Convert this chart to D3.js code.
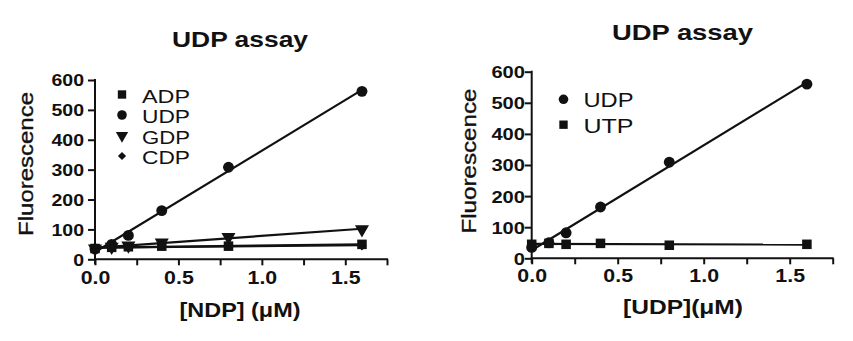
<!DOCTYPE html>
<html><head><meta charset="utf-8">
<script src="https://cdn.jsdelivr.net/npm/d3@7"></script>
<style>
html,body{margin:0;padding:0;background:#fff;}
text{font-family:"Liberation Sans",Arial,Helvetica,sans-serif;fill:#111;}
</style></head>
<body>
<svg id="chart" width="853" height="341"></svg>
<script>
// ---------- data ----------
const concentrations = [0, 0.1, 0.2, 0.4, 0.8, 1.6];
const xTickValues = [0, 0.25, 0.5, 0.75, 1.0, 1.25, 1.5, 1.75];
const xTickLabels = ["0.0", "", "0.5", "", "1.0", "", "1.5", ""];
const yTickValues = [0, 100, 200, 300, 400, 500, 600];

// left panel: NDP specificity
const leftSeriesNames = ["ADP", "UDP", "GDP", "CDP"];
const leftADP = [36, 40, 42, 44, 44, 50];
const leftUDP = [35, 50, 80, 163, 308, 562];
const leftGDP = [36, 42, 46, 56, 74, 100];
const leftCDP = [34, 38, 40, 47, 44, 45];
const leftSymbols = ["square", "circle", "triangleDown", "diamond"];

// right panel: UDP vs UTP
const rightSeriesNames = ["UDP", "UTP"];
const rightUDP = [35, 50, 82, 165, 309, 560];
const rightUTP = [45, 48, 45, 48, 42, 45];
const rightSymbols = ["circle", "square"];

const titles = ["UDP assay", "UDP assay"];
const xTitles = ["[NDP] (\u03bcM)", "[UDP](\u03bcM)"];
const yTitle = "Fluorescence";

// ---------- drawing ----------
const svg = d3.select("#chart");
const SX = 1.22; // horizontal text stretch of the reference

function symbolPath(kind, big) {
  const k = big ? 1.3 : 1;
  if (kind === "square") return d3.symbol(d3.symbolSquare, 70 * k)();
  if (kind === "circle") return d3.symbol(d3.symbolCircle, 72 * k)();
  if (kind === "triangleDown") return d3.symbol(d3.symbolTriangle, 66 * k)();
  if (kind === "diamond") return d3.symbol(d3.symbolSquare, 34 * k)();
}
function symbolRot(kind) {
  if (kind === "triangleDown") return " rotate(180)";
  if (kind === "diamond") return " rotate(45)";
  return "";
}

function fit(xs, ys) {
  const mx = d3.mean(xs), my = d3.mean(ys);
  let sxy = 0, sxx = 0;
  xs.forEach((x, i) => { sxy += (x - mx) * (ys[i] - my); sxx += (x - mx) * (x - mx); });
  const b = sxy / sxx;
  return { slope: b, intercept: my - b * mx };
}

function panel(cfg) {
  const g = svg.append("g");
  const x = d3.scaleLinear().domain([0, 1.75]).range([cfg.x0, cfg.x1]);
  const y = d3.scaleLinear().domain([0, 600]).range([cfg.y0, cfg.y1]);

  // x axis
  const xa = g.append("g").attr("transform", `translate(0,${cfg.y0})`)
    .call(d3.axisBottom(x).tickValues(xTickValues).tickSize(6).tickSizeOuter(0)
      .tickFormat((d, i) => xTickLabels[i]));
  xa.select(".domain").remove();
  xa.selectAll(".tick line").attr("stroke", "#111").attr("stroke-width", 2);
  xa.selectAll(".tick text").attr("y", null).attr("dy", null)
    .attr("transform", `translate(0,${cfg.xLabelBase - cfg.y0}) scale(${SX},1)`)
    .attr("font-size", cfg.xTickFont).attr("font-weight", "bold").attr("fill", "#111");
  g.append("line").attr("x1", x(0) - 1).attr("x2", x(1.75) + 1)
    .attr("y1", cfg.y0).attr("y2", cfg.y0).attr("stroke", "#111").attr("stroke-width", 2);

  // y axis
  const ya = g.append("g").attr("transform", `translate(${cfg.x0},0)`)
    .call(d3.axisLeft(y).tickValues(yTickValues).tickSize(7).tickSizeOuter(0));
  ya.select(".domain").remove();
  ya.selectAll(".tick line").attr("stroke", "#111").attr("stroke-width", 2);
  ya.selectAll(".tick text").attr("x", null).attr("dy", "0.36em")
    .attr("transform", `translate(${cfg.yLabelRight - cfg.x0},0) scale(${SX},1)`)
    .attr("font-size", cfg.yTickFont).attr("font-weight", "bold").attr("fill", "#111");
  g.append("line").attr("x1", cfg.x0).attr("x2", cfg.x0)
    .attr("y1", y(600) - 1).attr("y2", cfg.y0 + 5).attr("stroke", "#111").attr("stroke-width", 2);

  // fit lines
  cfg.series.forEach(s => {
    const f = fit(concentrations, s.values);
    g.append("line")
      .attr("x1", x(0)).attr("y1", y(f.intercept))
      .attr("x2", x(1.6)).attr("y2", y(f.intercept + f.slope * 1.6))
      .attr("stroke", "#111").attr("stroke-width", 2.2);
  });
  // markers
  cfg.series.forEach(s => {
    g.append("g").selectAll("path").data(s.values).join("path")
      .attr("d", symbolPath(s.symbol, true))
      .attr("transform", (d, i) => `translate(${x(concentrations[i])},${y(d)})${symbolRot(s.symbol)}`)
      .attr("fill", "#111");
  });

  // legend
  cfg.series.forEach((s, i) => {
    const by = cfg.legendBase[i];
    g.append("path").attr("d", symbolPath(s.symbol, false))
      .attr("transform", `translate(${cfg.legendMarkX},${by - 8})${symbolRot(s.symbol)}`)
      .attr("fill", "#111");
    g.append("text").attr("x", cfg.legendTextX).attr("y", by)
      .attr("font-size", cfg.legendFont).attr("textLength", cfg.legendW)
      .attr("lengthAdjust", "spacingAndGlyphs").text(s.name);
  });

  // titles
  g.append("text").attr("x", cfg.titleX).attr("y", cfg.titleY)
    .attr("text-anchor", "middle").attr("font-weight", "bold").attr("font-size", 21.5)
    .attr("textLength", cfg.titleW).attr("lengthAdjust", "spacingAndGlyphs").text(cfg.title);
  g.append("text").attr("x", cfg.xTitleX).attr("y", cfg.xTitleY)
    .attr("text-anchor", "middle").attr("font-weight", "bold").attr("font-size", 20.5)
    .attr("textLength", cfg.xTitleW).attr("lengthAdjust", "spacingAndGlyphs").text(cfg.xTitle);
  g.append("text").attr("transform", `translate(${cfg.yTitleX},${cfg.yTitleY}) rotate(-90)`)
    .attr("text-anchor", "middle").attr("font-size", 20.5)
    .attr("stroke", "#111").attr("stroke-width", 0.35)
    .attr("textLength", cfg.yTitleW).attr("lengthAdjust", "spacingAndGlyphs").text(yTitle);
}

panel({
  x0: 95, x1: 387, y0: 259.3, y1: 80,
  xLabelBase: 284, xTickFont: 17.5, yLabelRight: 84, yTickFont: 16,
  series: leftSeriesNames.map((n, i) => ({ name: n, values: [leftADP, leftUDP, leftGDP, leftCDP][i], symbol: leftSymbols[i] })),
  legendBase: [102.5, 123, 143.5, 164], legendMarkX: 122, legendTextX: 142, legendFont: 19, legendW: 48,
  title: titles[0], titleX: 240, titleY: 46.5, titleW: 136,
  xTitle: xTitles[0], xTitleX: 240, xTitleY: 317, xTitleW: 121,
  yTitleX: 33, yTitleY: 164, yTitleW: 144
});

panel({
  x0: 531.7, x1: 832.7, y0: 258.3, y1: 71.7,
  xLabelBase: 282, xTickFont: 17.5, yLabelRight: 525, yTickFont: 16.5,
  series: rightSeriesNames.map((n, i) => ({ name: n, values: [rightUDP, rightUTP][i], symbol: rightSymbols[i] })),
  legendBase: [107.3, 132.7], legendMarkX: 563.5, legendTextX: 583.5, legendFont: 19.5, legendW: 50,
  title: titles[1], titleX: 682.5, titleY: 39.5, titleW: 141,
  xTitle: xTitles[1], xTitleX: 683, xTitleY: 314, xTitleW: 120,
  yTitleX: 476, yTitleY: 161, yTitleW: 145
});
</script>
</body></html>
